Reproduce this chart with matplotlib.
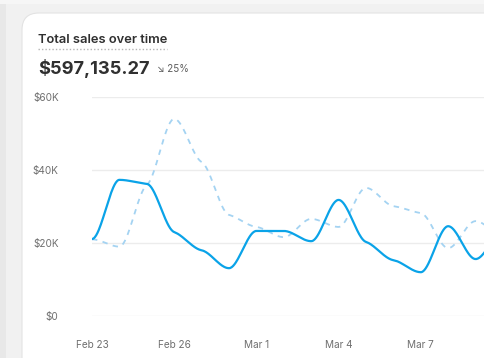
import numpy as np
import matplotlib.pyplot as plt
from matplotlib.patches import FancyBboxPatch, Rectangle
from matplotlib.lines import Line2D

plt.rcParams['font.family'] = ['Inter', 'DejaVu Sans']

# ── Data (thousands of $ per day) ─────────────────────────────────────────────
days = list(range(16))
tick_days = [0, 3, 6, 9, 12]
tick_labels = ["Feb 23", "Feb 26", "Mar 1", "Mar 4", "Mar 7"]
current = [21.1, 37.3, 36.2, 23.0, 18.0, 13.1, 23.3, 23.3, 20.5, 31.8,
           20.3, 15.3, 12.0, 24.6, 15.6, 23.0]
previous = [21.0, 19.0, 35.9, 54.0, 42.2, 27.7, 24.4, 21.6, 26.6, 24.4,
            35.1, 30.1, 28.2, 18.6, 26.0, 22.0]
y_ticks = [0, 20, 40, 60]
y_labels = ["$0", "$20K", "$40K", "$60K"]
title = "Total sales over time"
total = "$597,135.27"
change = "25%"


# ── Smooth curve through the points: Hermite with damped monotone tangents ───
def smooth(x, y, n=40, k=0.3):
    x = np.asarray(x, float); y = np.asarray(y, float)
    h = np.diff(x); s = np.diff(y) / h
    m = np.zeros_like(y)
    for i in range(1, len(y) - 1):
        p = (s[i - 1] * h[i] + s[i] * h[i - 1]) / (h[i - 1] + h[i])
        m[i] = k * (np.sign(s[i - 1]) + np.sign(s[i])) * min(abs(s[i - 1]), abs(s[i]), 0.5 * abs(p))
    xs, ys = [], []
    for i in range(len(h)):
        t = np.linspace(0, 1, n, endpoint=False)
        h00 = 2*t**3 - 3*t**2 + 1; h10 = t**3 - 2*t**2 + t
        h01 = -2*t**3 + 3*t**2;    h11 = t**3 - t**2
        xs.append(x[i] + t * h[i])
        ys.append(h00*y[i] + h10*h[i]*m[i] + h01*y[i+1] + h11*h[i]*m[i+1])
    xs.append([x[-1]]); ys.append([y[-1]])
    return np.concatenate(xs), np.concatenate(ys)


W, H = 485, 358
fig = plt.figure(figsize=(W / 100, H / 100), dpi=100)
fig.patch.set_facecolor("#f1f1f1")

# page strip + card (kept below the axes)
fig.patches.append(Rectangle((0, 0), 6 / W, 1, transform=fig.transFigure,
                             facecolor="#e8e8e8", edgecolor="none", zorder=-3))
fig.patches.append(Rectangle((0, 1 - 4 / H), 1, 4 / H, transform=fig.transFigure,
                             facecolor="#f6f6f6", edgecolor="none", zorder=-3))
fig.patches.append(FancyBboxPatch((22 / W, -0.2), 1.2, 1.2 - 13 / H,
                                  boxstyle="round,pad=0,rounding_size=0.035",
                                  transform=fig.transFigure, facecolor="white",
                                  edgecolor="#e3e3e3", linewidth=0.8, zorder=-2,
                                  mutation_aspect=W / H))

# header
fig.text(38 / W, 1 - 40 / H, title, fontsize=9.3, fontweight="semibold",
         color="#303030", va="center", ha="left")
fig.add_artist(Line2D([38 / W, 167 / W], [1 - 48.5 / H, 1 - 48.5 / H],
                      transform=fig.transFigure, color="#b5b5b5",
                      linestyle=(0, (1, 1.5)), linewidth=1))
fig.text(38 / W, 1 - 68 / H, total, fontsize=13.2, fontweight="bold",
         color="#303030", va="center", ha="left")
fig.text(157 / W, 1 - 68.5 / H, "\u2198 " + change, fontsize=7,
         color="#5c5c5c", va="center", ha="left")

# chart
ax = fig.add_axes([92 / W, 42 / H, 1 - 92 / W, (316 - 97) / H])
ax.set_facecolor("none")
xp, yp = smooth(days, previous)
xc, yc = smooth(days, current)
ax.plot(xp, yp, color="#a4d3f2", linewidth=1.3, linestyle=(0, (3, 3)), zorder=2)
ax.plot(xc, yc, color="#0aa3e8", linewidth=1.6, zorder=3)

ax.set_xlim(0, (W - 92) / 27.4)
ax.set_ylim(0, 60)
ax.set_yticks(y_ticks)
ax.set_yticklabels(y_labels)
ax.set_xticks(tick_days)
ax.set_xticklabels(tick_labels)
ax.grid(axis="y", color="#ececec", linewidth=1)
ax.set_axisbelow(True)
for sp in ax.spines.values():
    sp.set_visible(False)
ax.tick_params(axis="both", length=0, labelsize=7.2, labelcolor="#6f6f6f")
ax.tick_params(axis="y", pad=24)
ax.tick_params(axis="x", pad=17)

fig.savefig("out.png", dpi=100, facecolor=fig.get_facecolor())
